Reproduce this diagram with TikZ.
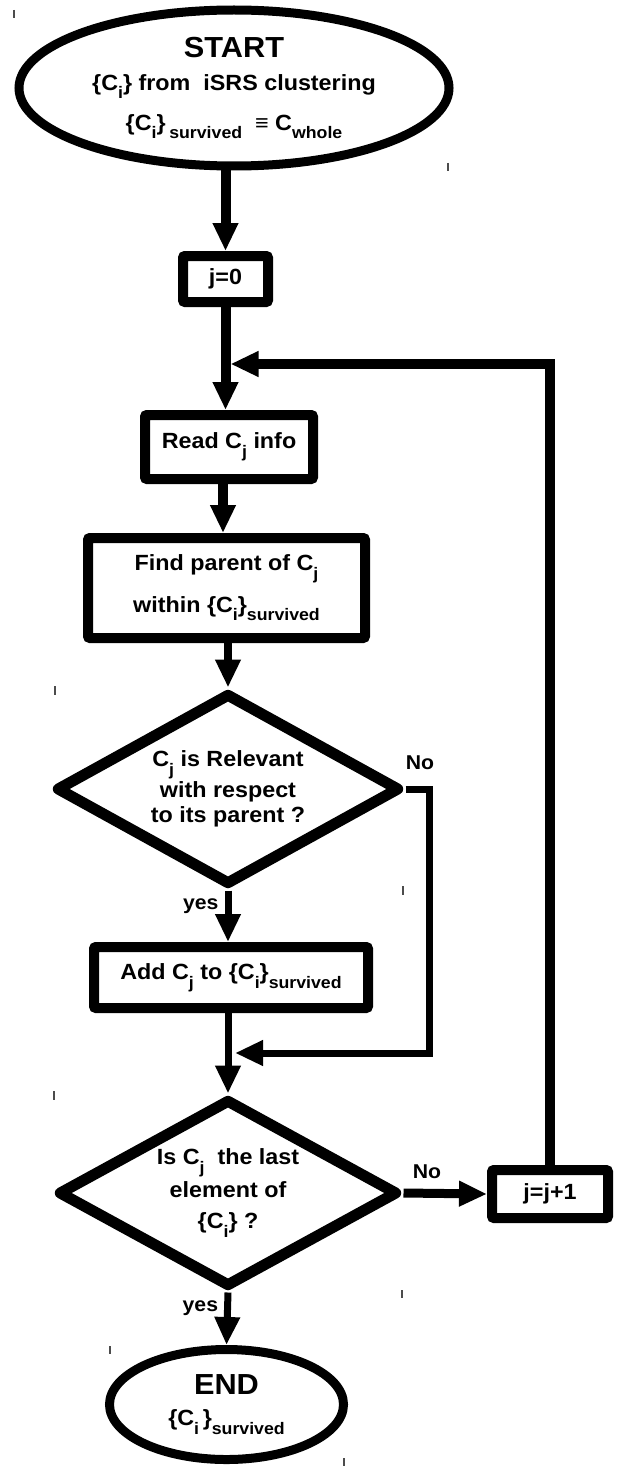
\documentclass[tikz,border=0pt]{standalone}
\usepackage{fontspec}
\setmainfont{Liberation Sans}[FakeStretch=1.06]
\usetikzlibrary{shapes.geometric,arrows.meta,calc}
\newcommand\lo[1]{\raisebox{-0.40em}{\scalebox{0.76}{#1}}}
\begin{document}
\begin{tikzpicture}[x=1pt,y=-1pt,
  font=\bfseries\fontsize{22}{25}\selectfont,
  box/.style={draw,line width=10pt,rounded corners=2pt,inner sep=0pt,align=center},
  term/.style={ellipse,draw,line width=9pt,inner sep=0pt,align=center},
  dec/.style={diamond,draw,line width=11pt,line join=round,inner sep=0pt,aspect=1.8,align=center},
  arr/.style={line width=#1,-{Triangle[length=28pt,width=24pt]}},
  arr/.default=10pt,
  lbl/.style={font=\bfseries\fontsize{20}{22}\selectfont,inner sep=0pt},
  tick/.style={line width=1.3pt,draw=black!70}]
\useasboundingbox (0,0) rectangle (622,1466);
% nodes
\node[term,minimum width=430pt,minimum height=156pt] (start) at (234,88)
  {{\fontsize{29}{32}\selectfont START}\\[8pt]
   \{C\lo{i}\} from\ \ iSRS clustering\\[15pt]
   \{C\lo{i}\}\,\lo{survived} \ ≡ C\lo{whole}};
\node[box,minimum width=85pt,minimum height=46pt] (j0) at (225.5,279) {j=0};
\node[box,minimum width=168pt,minimum height=64pt] (read) at (229,447) {Read C\lo{j} info};
\node[box,minimum width=277pt,minimum height=100pt] (find) at (226.5,588)
  {Find parent of C\lo{j}\\[12pt] within \{C\lo{i}\}\lo{survived}};
\node[dec,minimum width=344pt,minimum height=192pt] (d1) at (228,789)
  {C\lo{j} is Relevant\\[2pt] with respect\\[0pt] to its parent ?};
\node[box,minimum width=274pt,minimum height=61pt] (add) at (231,977.5)
  {Add C\lo{j} to \{C\lo{i}\}\lo{survived}};
\node[dec,minimum width=340pt,minimum height=188pt] (d2) at (228,1193)
  {Is C\lo{j}\ \ the last\\[4pt] element of\\[6pt] \{C\lo{i}\} ?};
\node[box,minimum width=116pt,minimum height=48pt] (jj) at (550,1194) {j=j+1};
\node[term,minimum width=234pt,minimum height=110pt] (end) at (226.5,1404.5)
  {{\fontsize{29}{32}\selectfont END}\\[6pt] \{C\lo{i}\,\}\lo{survived}};
% helper coordinates
\coordinate (m1) at ($(j0.south)+(2,57)$);
\coordinate (c1) at ($(read.south)+(-6,0)$);
\coordinate (m2) at ($(add.south)+(0,40)$);
% connectors
\draw[arr] (start.south -| j0.north) -- (j0.north);
\draw[arr] (j0.south) -- (j0.south |- read.north);
\draw[arr] (c1) -- (c1 |- find.north);
\draw[arr=8pt] (find.south -| d1.north) -- (d1.north);
\draw[arr=7pt] (d1.south) -- (d1.south |- add.north) node[lbl,pos=0.3,left=6pt] {yes};
\draw[arr=7pt] (add.south -| d2.north) -- (d2.north);
\draw[arr=7pt] (d1.east) -- ++(24,0) node[lbl,above=16pt,pos=0.6] {No} |- ($(m2)+(4,0)$);
\draw[arr=9pt] (d2.east) -- (jj.west) node[lbl,pos=0.28,above=10pt] {No};
\draw[arr=7pt] (d2.south) -- (end.north) node[lbl,pos=0.3,left=6pt] {yes};
\draw[arr=10pt] (jj.north) |- ($(m1)+(3,0)$);
% stray marks
\draw[tick] (14,10) -- (14,18);
\draw[tick] (448,163) -- (448,171);
\draw[tick] (55,686) -- (55,695);
\draw[tick] (403,886) -- (403,895);
\draw[tick] (54,1091) -- (54,1100);
\draw[tick] (402,1290) -- (402,1298);
\draw[tick] (110,1346) -- (110,1354);
\draw[tick] (344,1458) -- (344,1466);
\end{tikzpicture}
\end{document}
